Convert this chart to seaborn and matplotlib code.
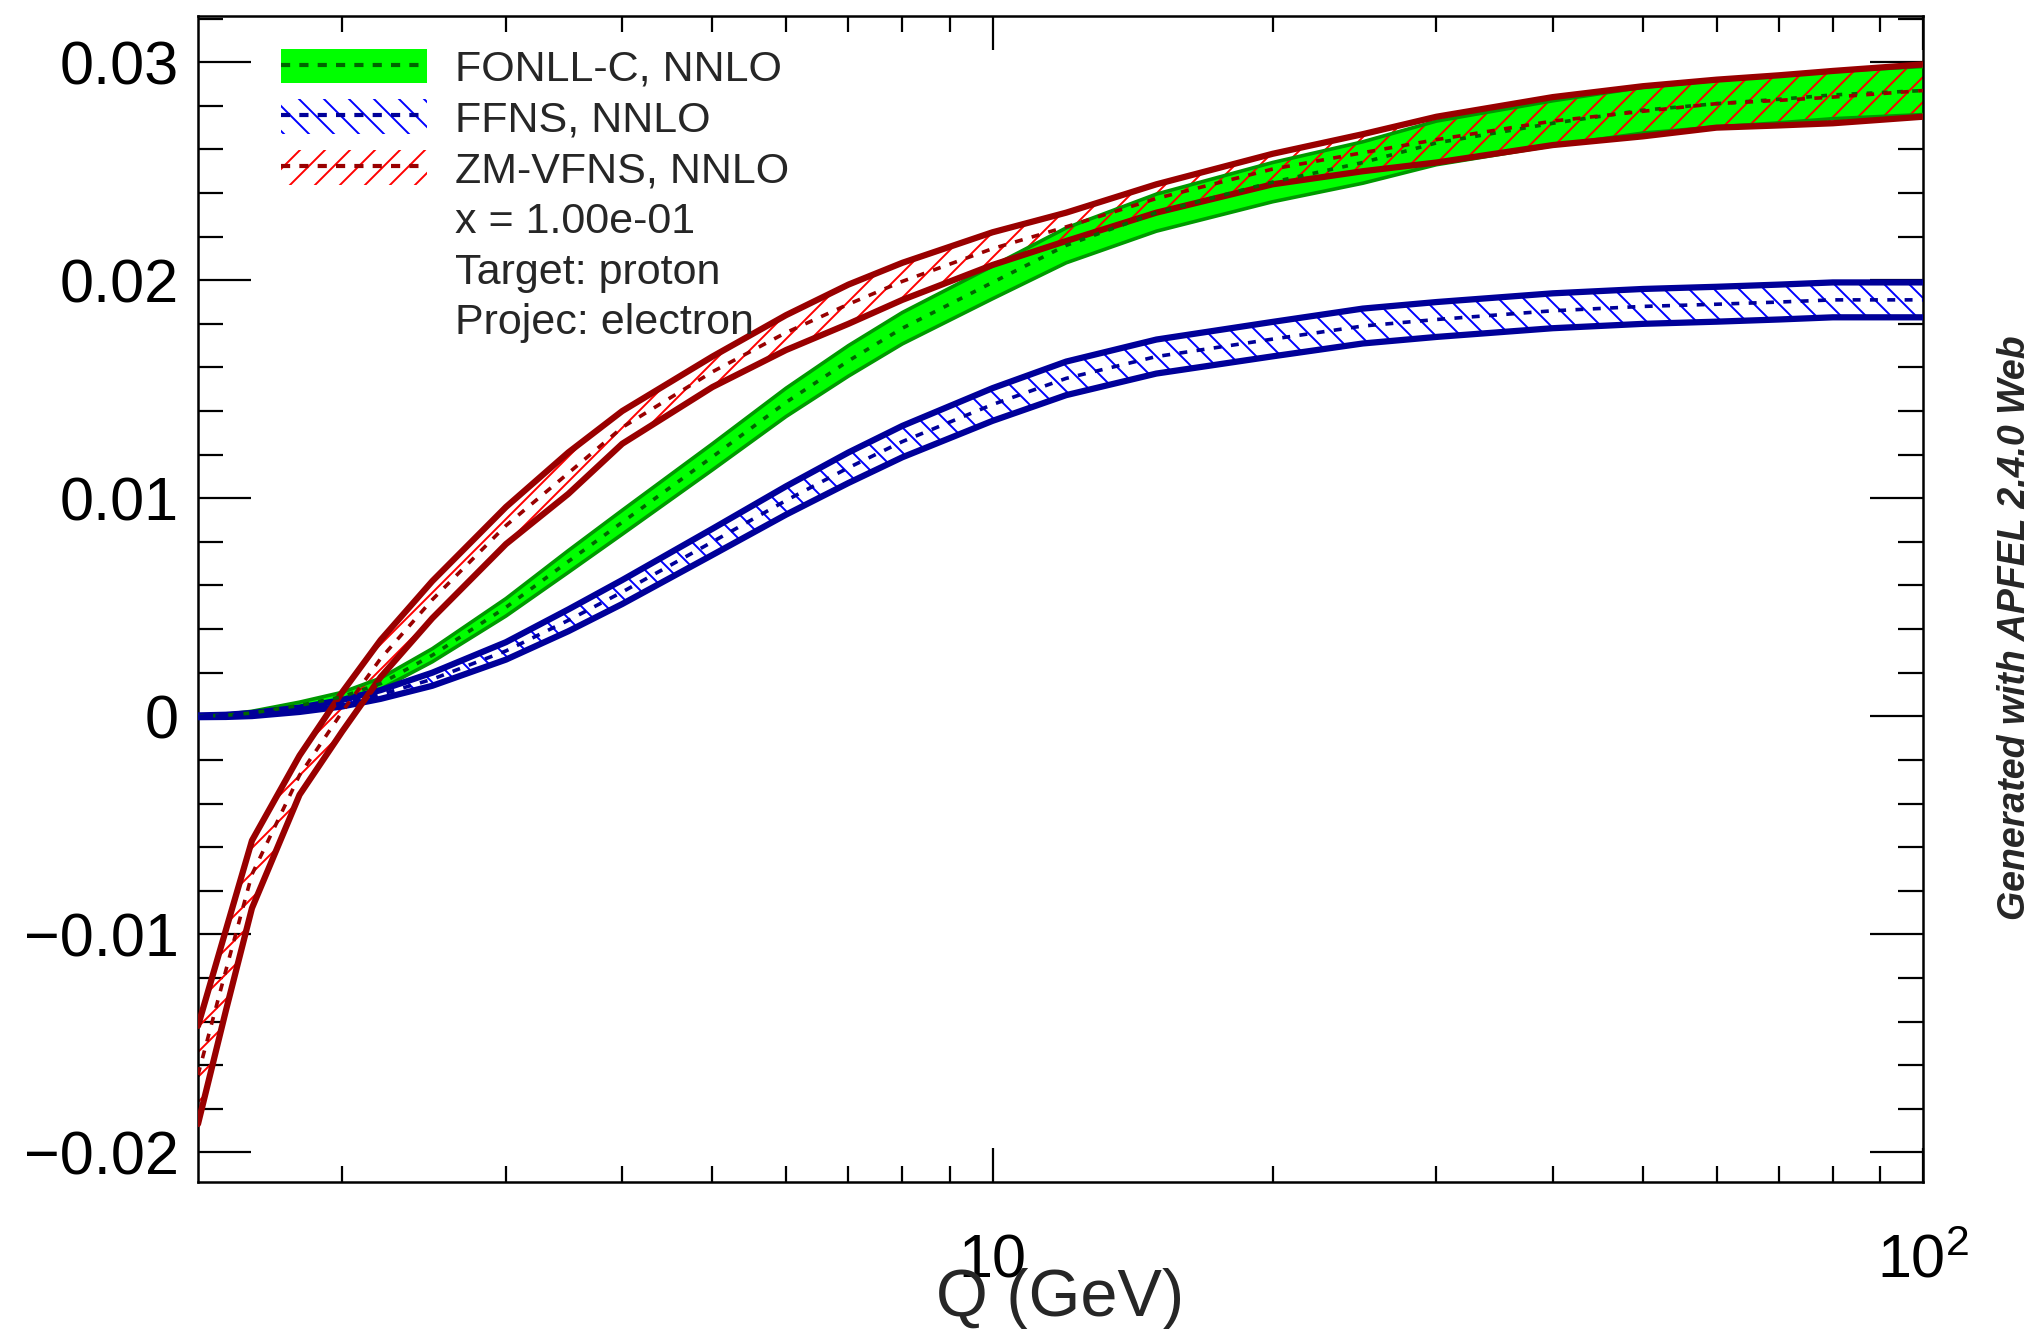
import numpy as np
import pandas as pd
import matplotlib
matplotlib.use("Agg")
import matplotlib.pyplot as plt
import seaborn as sns
from matplotlib.ticker import FixedLocator, FixedFormatter, NullFormatter
from matplotlib.patches import Patch
from matplotlib.lines import Line2D
from matplotlib.legend_handler import HandlerTuple

# ---------------- data ----------------
Q = [1.4, 1.5, 1.6, 1.8, 2.0, 2.2, 2.5, 3.0, 3.5, 4.0, 5.0, 6.0, 7.0, 8.0,
     10.0, 12.0, 15.0, 20.0, 25.0, 30.0, 40.0, 50.0, 60.0, 70.0, 80.0, 100.0]

fonll_central = [0.0, 0.00005, 0.00015, 0.0005, 0.0009, 0.0015, 0.0028, 0.0050,
                 0.0071, 0.0089, 0.0119, 0.0144, 0.0163, 0.0178, 0.0199, 0.0216,
                 0.0231, 0.0245, 0.0254, 0.0263, 0.0272, 0.0278, 0.0281, 0.0283,
                 0.0285, 0.0287]
fonll_lower = [-0.00002, 0.00001, 0.00007, 0.00035, 0.0007, 0.00125, 0.0025, 0.0046,
               0.0066, 0.00835, 0.0113, 0.01375, 0.0156, 0.01708, 0.01915, 0.0208,
               0.02225, 0.0236, 0.02445, 0.0253, 0.02617, 0.02675, 0.02703, 0.02722,
               0.02741, 0.0276]
fonll_upper = [0.00002, 0.00009, 0.00023, 0.00065, 0.0011, 0.00175, 0.0031, 0.0054,
               0.0076, 0.00945, 0.0125, 0.01505, 0.0170, 0.01852, 0.02065, 0.0224,
               0.02395, 0.0254, 0.02635, 0.0273, 0.02823, 0.02885, 0.02917, 0.02938,
               0.02959, 0.0298]

ffns_central = [0.0, 0.00002, 0.00008, 0.0003, 0.0006, 0.0010, 0.0017, 0.0030,
                0.0044, 0.0057, 0.0080, 0.0099, 0.0114, 0.0126, 0.0143, 0.0155,
                0.0165, 0.0173, 0.0179, 0.0182, 0.0186, 0.0188, 0.0189, 0.0190,
                0.0191, 0.0191]
ffns_lower = [-0.00004, -0.00003, 0.00001, 0.0002, 0.00045, 0.0008, 0.0014, 0.0026,
              0.0039, 0.00515, 0.0074, 0.00925, 0.0107, 0.01188, 0.01355, 0.01473,
              0.01572, 0.01651, 0.0171, 0.0174, 0.0178, 0.0180, 0.0181, 0.0182,
              0.0183, 0.0183]
ffns_upper = [0.00004, 0.00007, 0.00015, 0.0004, 0.00075, 0.0012, 0.0020, 0.0034,
              0.0049, 0.00625, 0.0086, 0.01055, 0.0121, 0.01332, 0.01505, 0.01627,
              0.01728, 0.01809, 0.0187, 0.0190, 0.0194, 0.0196, 0.0197, 0.0198,
              0.0199, 0.0199]

zm_central = [-0.01645, -0.01165, -0.00725, -0.0027, 0.0002, 0.00265, 0.00535, 0.00875,
              0.01115, 0.01325, 0.0158, 0.0176, 0.0189, 0.01995, 0.02145, 0.02245,
              0.02375, 0.0251, 0.02585, 0.02645, 0.0273, 0.02775, 0.0281, 0.02825,
              0.0284, 0.0287]
zm_lower = [-0.0187, -0.0135, -0.0088, -0.0036, -0.0007, 0.0018, 0.0045, 0.0079,
            0.0102, 0.0125, 0.0151, 0.0168, 0.0180, 0.0191, 0.0207, 0.0218,
            0.0231, 0.0244, 0.0250, 0.0254, 0.0262, 0.0266, 0.0270, 0.0271,
            0.0272, 0.0275]
zm_upper = [-0.0142, -0.0098, -0.0057, -0.0018, 0.0011, 0.0035, 0.0062, 0.0096,
            0.0121, 0.0140, 0.0165, 0.0184, 0.0198, 0.0208, 0.0222, 0.0231,
            0.0244, 0.0258, 0.0267, 0.0275, 0.0284, 0.0289, 0.0292, 0.0294,
            0.0296, 0.0299]

series_labels = ["FONLL-C, NNLO", "FFNS, NNLO", "ZM-VFNS, NNLO"]
info_lines = ["x = 1.00e-01", "Target: proton", "Projec: electron"]
y_ticks = [-0.02, -0.01, 0.0, 0.01, 0.02, 0.03]
y_tick_labels = ["\u22120.02", "\u22120.01", "0", "0.01", "0.02", "0.03"]
x_ticks = [10, 100]
x_tick_labels = ["10", r"$\mathdefault{10^{2}}$"]
x_label = "Q (GeV)"
side_note = "Generated with APFEL 2.4.0 Web"

# ---------------- style ----------------
W, H, DPI = 2042, 1329, 150
k = 100.0 / DPI   # sizes below are tuned in "points at 100 dpi"


def pt(v):
    return v * k


sns.set_theme(style="ticks")
plt.rcParams["font.family"] = ["Liberation Sans", "DejaVu Sans"]
plt.rcParams["mathtext.fontset"] = "custom"
plt.rcParams["mathtext.rm"] = "Liberation Sans"
plt.rcParams["mathtext.it"] = "Liberation Sans:italic"
plt.rcParams["mathtext.bf"] = "Liberation Sans:bold"
plt.rcParams["hatch.linewidth"] = pt(1.4)
plt.rcParams["axes.unicode_minus"] = True

styles = {
    "FONLL-C, NNLO": dict(fill="#00ff00", hatch=None, hatch_color=None,
                          edge="#009900", edge_lw=2.6, center="#006600",
                          center_ls=(0, (1.6, 2.6))),
    "FFNS, NNLO": dict(fill="none", hatch="\\\\", hatch_color="#0000ff",
                       edge="#000099", edge_lw=4.5, center="#000099",
                       center_ls=(0, (2.2, 2.6))),
    "ZM-VFNS, NNLO": dict(fill="none", hatch="//", hatch_color="#ff0000",
                          edge="#990000", edge_lw=4.5, center="#990000",
                          center_ls=(0, (2.2, 2.6))),
}

frames = []
for name, c, lo, up in [("FONLL-C, NNLO", fonll_central, fonll_lower, fonll_upper),
                        ("FFNS, NNLO", ffns_central, ffns_lower, ffns_upper),
                        ("ZM-VFNS, NNLO", zm_central, zm_lower, zm_upper)]:
    frames.append(pd.DataFrame({"Q": Q, "central": c, "lower": lo, "upper": up,
                                "scheme": name}))
df = pd.concat(frames, ignore_index=True)

fig = plt.figure(figsize=(W / DPI, H / DPI), dpi=DPI)
fig.patch.set_facecolor("white")
ax = fig.add_axes([198 / W, 1 - 1182 / H, (1923 - 198) / W, (1182 - 16) / H])
ax.set_facecolor("white")

for name in series_labels:
    st = styles[name]
    d = df[df["scheme"] == name]
    if st["hatch"] is None:
        ax.fill_between(d["Q"], d["lower"], d["upper"], facecolor=st["fill"],
                        edgecolor="none", linewidth=0, zorder=2)
    else:
        ax.fill_between(d["Q"], d["lower"], d["upper"], facecolor="none",
                        edgecolor=st["hatch_color"], hatch=st["hatch"],
                        linewidth=0, zorder=2)
    for col in ["lower", "upper"]:
        sns.lineplot(data=d, x="Q", y=col, ax=ax, color=st["edge"],
                     lw=pt(st["edge_lw"]), estimator=None, sort=True, zorder=3)
    sns.lineplot(data=d, x="Q", y="central", ax=ax, color=st["center"], lw=pt(2.6),
                 linestyle=st["center_ls"], estimator=None, sort=True, zorder=4)

ax.set_xscale("log")
ax.set_xlim(1.4, 100)
ax.set_ylim(-0.02136, 0.03212)

# ticks (ROOT style: inward, on all four sides)
ax.xaxis.set_major_locator(FixedLocator(x_ticks))
ax.xaxis.set_major_formatter(FixedFormatter(x_tick_labels))
ax.xaxis.set_minor_locator(FixedLocator([2, 3, 4, 5, 6, 7, 8, 9,
                                         20, 30, 40, 50, 60, 70, 80, 90]))
ax.xaxis.set_minor_formatter(NullFormatter())
ax.yaxis.set_major_locator(FixedLocator(y_ticks))
ax.yaxis.set_major_formatter(FixedFormatter(y_tick_labels))
ax.yaxis.set_minor_locator(FixedLocator(np.arange(-0.02, 0.0321, 0.002)))

ax.tick_params(axis="both", which="both", direction="in", top=True, right=True,
               colors="black", width=pt(1.6))
ax.tick_params(axis="y", which="major", length=pt(38), labelsize=pt(44), pad=pt(14))
ax.tick_params(axis="y", which="minor", length=pt(18))
ax.tick_params(axis="x", which="major", length=pt(24.5), labelsize=pt(44), pad=pt(37))
ax.tick_params(axis="x", which="minor", length=pt(11.5))
for sp in ax.spines.values():
    sp.set_visible(True)
    sp.set_color("black")
    sp.set_linewidth(pt(1.8))

ax.set_xlabel(x_label, fontsize=pt(48))
ax.xaxis.set_label_coords(0.5, -0.074)
ax.set_ylabel("")

# legend
handles = []
for name in series_labels:
    st = styles[name]
    if st["hatch"] is None:
        patch = Patch(facecolor=st["fill"], edgecolor="none", linewidth=0)
    else:
        patch = Patch(facecolor="none", edgecolor=st["hatch_color"],
                      hatch=st["hatch"], linewidth=0)
    line = Line2D([], [], color=st["center"], lw=pt(3.0), linestyle=(0, (2.2, 2.2)))
    handles.append((patch, line))
blank = [Line2D([], [], color="none") for _ in info_lines]
leg = ax.legend(handles + blank, series_labels + info_lines,
                handler_map={tuple: HandlerTuple(ndivide=1, pad=0)},
                loc="upper left", bbox_to_anchor=(0.0481, 0.972),
                frameon=False, fontsize=pt(31), handlelength=3.4, handleheight=0.86,
                handletextpad=0.64, labelspacing=0.22, borderpad=0, borderaxespad=0)

fig.text(2015 / W, 1 - 628 / H, side_note, rotation=90, fontsize=pt(27),
         fontweight="bold", fontstyle="italic", ha="center", va="center")

fig.savefig("out.png", dpi=DPI, facecolor="white")
